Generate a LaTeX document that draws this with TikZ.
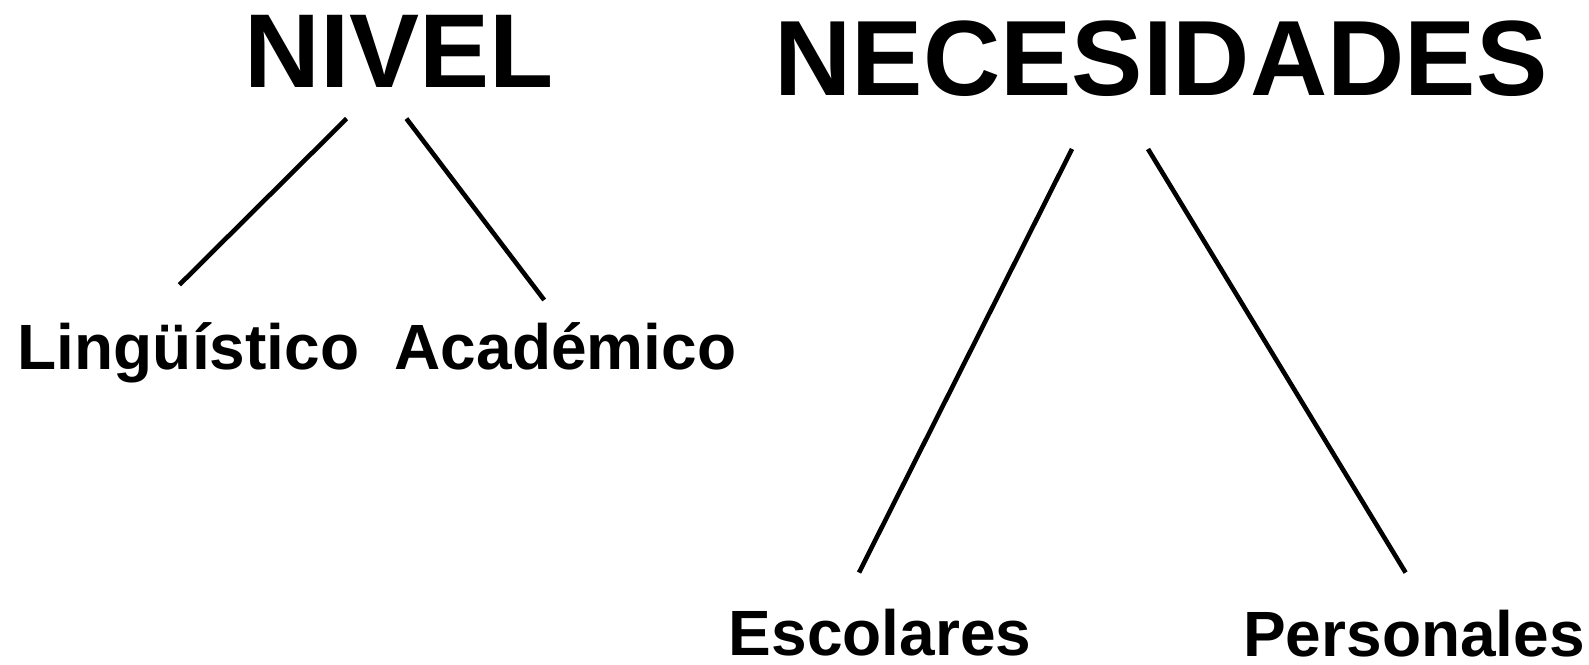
\documentclass[tikz,border=0pt]{standalone}
\usepackage{fontspec}
\setmainfont{Liberation Sans}
\tikzset{
  titulo/.style={font=\bfseries\fontsize{107}{110}\selectfont, anchor=base, inner sep=0pt},
  rama/.style={font=\bfseries\fontsize{64}{70}\selectfont, anchor=base, inner sep=0pt},
  linea/.style={line width=4.6pt}
}
\begin{document}
\begin{tikzpicture}[x=1pt, y=-1pt]
    \useasboundingbox (0,0) rectangle (1589,664);
    % titulos
    \node[titulo, font=\bfseries\fontsize{105}{110}\selectfont] (nivel) at (399,87) {NIVEL};
    \node[titulo] (necesidades) at (1161,95) {NECESIDADES};
    % ramas
    \node[rama] (linguistico) at (188.5,369) {Lingüístico};
    \node[rama] (academico) at (565.5,369) {Académico};
    \node[rama] (escolares) at (880,655) {Escolares};
    \node[rama] (personales) at (1414,656) {Personales};
    % extremos de las lineas
    \coordinate (n1) at (346.6,118.6);
    \coordinate (n2) at (406.4,118.6);
    \coordinate (l1) at (179.4,284.8);
    \coordinate (a1) at (544.2,300);
    \coordinate (c1) at (1072,149);
    \coordinate (c2) at (1148,149);
    \coordinate (e1) at (859,572.6);
    \coordinate (p1) at (1405.6,572.6);
    \draw[linea] (n1) -- (l1);
    \draw[linea] (n2) -- (a1);
    \draw[linea] (c1) -- (e1);
    \draw[linea] (c2) -- (p1);
\end{tikzpicture}
\end{document}
